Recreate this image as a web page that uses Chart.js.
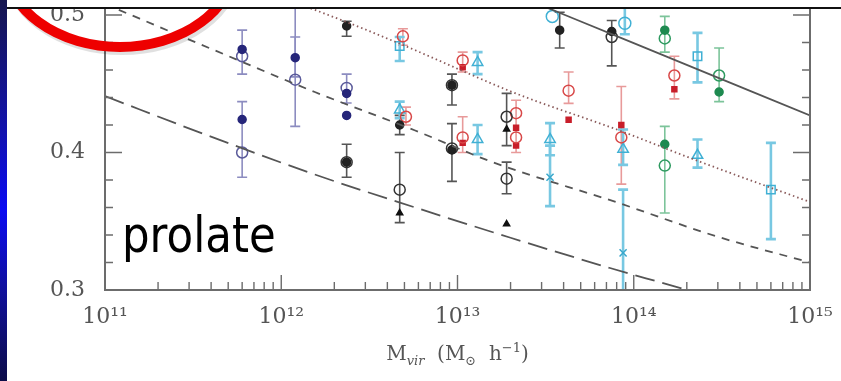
<!DOCTYPE html>
<html>
<head>
<meta charset="utf-8">
<script src="https://cdn.jsdelivr.net/npm/chart.js@4.4.1/dist/chart.umd.min.js"></script>
<style>
  html, body { margin: 0; padding: 0; background: #fff; }
  #wrap { position: relative; width: 841px; height: 381px; overflow: hidden; background: #fff; }
  #side { position: absolute; left: 0; top: 0; width: 7px; height: 381px;
          background: linear-gradient(#16164e, #1212b0 35%, #0a0af2 55%, #1010a0 75%, #0c0c48); z-index: 5; }
  #box { position: absolute; left: 0; top: -20px; width: 841px; height: 401px; filter: blur(0.45px); }
  #ring { position: absolute; left: 0; top: 0; z-index: 2; }
  #cover { position: absolute; left: 7px; top: 0; width: 834px; height: 7px; background: #fff;
           border-bottom: 2px solid #111; z-index: 3; }
  #prolate { position: absolute; left: 122px; top: 210px; font-family: 'DejaVu Sans'; font-size: 50px;
             line-height: 50px; color: #000; transform: scaleX(0.87); transform-origin: left top; z-index: 4; }
</style>
</head>
<body>
<div id="wrap">
  <div id="box"><canvas id="shape-chart" width="841" height="401"></canvas></div>
  <svg id="ring" width="841" height="381">
    <ellipse cx="121" cy="-36" rx="115" ry="84" fill="none" stroke="rgba(0,0,0,0.12)" stroke-width="10" transform="translate(1,2)"/>
    <ellipse cx="120" cy="-38" rx="115" ry="85" fill="none" stroke="#ee0000" stroke-width="10"/>
  </svg>
  <div id="cover"></div>
  <div id="side"></div>
  <div id="prolate">prolate</div>
</div>
<script>
// [halo mass (Msun/h), value, error low, error high]
const navyFilled = [[6.0e11, 0.475, 0.457, 0.489], [6.0e11, 0.424, null, null], [1.2e12, 0.469, 0.455, 0.484],
                    [2.35e12, 0.443, null, null], [2.35e12, 0.427, null, null]];
const navyOpen = [[6.0e11, 0.470, null, null], [6.0e11, 0.400, 0.382, 0.437], [1.2e12, 0.453, 0.419, 0.52],
                  [2.35e12, 0.447, 0.436, 0.457]];
const blackFilled = [[2.35e12, 0.492, 0.4845, 0.4955], [2.35e12, 0.393, 0.382, 0.406], [4.7e12, 0.420, 0.413, 0.427],
                     [9.3e12, 0.449, 0.4345, 0.457], [9.3e12, 0.402, 0.379, 0.421], [3.8e13, 0.489, 0.476, 0.502],
                     [7.5e13, 0.488, 0.463, 0.496]];
const blackOpen = [[2.35e12, 0.393, null, null], [4.7e12, 0.373, 0.349, 0.400], [9.3e12, 0.449, null, null],
                   [9.3e12, 0.403, null, null], [1.9e13, 0.426, 0.405, 0.443], [1.9e13, 0.381, 0.370, 0.393],
                   [7.5e13, 0.484, null, null]];
const blackTri = [[4.7e12, 0.356, null, null], [1.9e13, 0.417, null, null], [1.9e13, 0.348, null, null]];
const redOpen = [[4.9e12, 0.4845, 0.478, 0.490], [5.1e12, 0.426, 0.420, 0.433], [1.07e13, 0.467, 0.4586, 0.473],
                 [1.07e13, 0.411, 0.400, 0.426], [2.15e13, 0.4286, 0.400, 0.438], [2.15e13, 0.411, null, null],
                 [4.27e13, 0.445, 0.4357, 0.4586], [8.5e13, 0.411, 0.377, 0.448], [1.7e14, 0.456, 0.439, 0.470]];
const redFilled = [[1.07e13, 0.462, null, null], [1.07e13, 0.407, null, null], [2.15e13, 0.418, null, null],
                   [2.15e13, 0.405, null, null], [4.27e13, 0.4238, null, null], [8.5e13, 0.420, null, null],
                   [1.7e14, 0.446, null, null]];
const cyanSquare = [[4.7e12, 0.4774, 0.4666, 0.484], [2.3e14, 0.470, 0.451, 0.487], [6.0e14, 0.373, 0.337, 0.407]];
const cyanTri = [[4.7e12, 0.431, 0.425, 0.437], [1.3e13, 0.4655, 0.457, 0.473], [1.3e13, 0.4095, 0.3988, 0.420],
                 [3.35e13, 0.4095, 0.398, 0.4214], [8.7e13, 0.4024, 0.391, 0.4167], [2.3e14, 0.398, 0.389, 0.4095]];
const cyanCross = [[3.35e13, 0.382, 0.361, 0.405], [8.7e13, 0.327, 0.29, 0.373]];
const cyanOpen = [[3.45e13, 0.499, null, null], [8.9e13, 0.494, 0.486, 0.51]];
const greenFilled = [[1.5e14, 0.489, 0.473, 0.499], [1.5e14, 0.406, 0.356, 0.419], [3.05e14, 0.444, null, null]];
const greenOpen = [[1.5e14, 0.483, null, null], [1.5e14, 0.3905, null, null], [3.05e14, 0.456, 0.437, 0.476]];

// model curves
const solidMass = [3e13, 1e14, 1e15];
const solidVal = [0.507, 0.4795, 0.427];
const dottedMass = [1e12, 2.8e12, 5.37e12, 2.14e13, 8.3e13, 2.19e14, 1e15];
const dottedVal = [0.513, 0.491, 0.476, 0.443, 0.416, 0.395, 0.364];
const shortDashMass = [1e11, 3.9e11, 1.55e12, 5.75e12, 1.58e13, 7.9e13, 2.95e14, 1e15];
const shortDashVal = [0.508, 0.476, 0.444, 0.416, 0.393, 0.364, 0.339, 0.320];
const longDashMass = [1e11, 3.9e11, 1.55e12, 5.75e12, 2e13, 7.33e13, 2e14, 1e15];
const longDashVal = [0.441, 0.412, 0.384, 0.360, 0.338, 0.316, 0.300, 0.272];

const xTicks = [1e11, 1e12, 1e13, 1e14, 1e15];
const xTickLabels = ['10\u00b9\u00b9', '10\u00b9\u00b2', '10\u00b9\u00b3', '10\u00b9\u2074', '10\u00b9\u2075'];
const yTicks = [0.3, 0.4, 0.5];
const yTickLabels = ['0.3', '0.4', '0.5'];

const pts = (arr) => arr.map((r) => ({ x: r[0], y: r[1], lo: r[2], hi: r[3] }));
const curve = (m, v) => m.map((x, i) => ({ x: x, y: v[i] }));

function marks(arr, color, errColor, style, radius, filled, errWidth) {
	return {
		type: 'scatter',
		data: pts(arr),
		pointStyle: style,
		pointRadius: radius,
		borderWidth: 1.5,
		borderColor: color,
		backgroundColor: filled ? color : 'rgba(255,255,255,0)',
		errColor: errColor,
		errWidth: errWidth || 1.6,
	};
}

function line(m, v, dash, color) {
	return {
		type: 'line',
		data: curve(m, v),
		borderColor: color,
		borderWidth: 1.8,
		borderDash: dash,
		pointRadius: 0,
		cubicInterpolationMode: 'monotone',
		fill: false,
	};
}

const errorBars = {
	id: 'errorBars',
	beforeDatasetsDraw(chart) {
		const { ctx, chartArea: a, scales } = chart;
		ctx.save();
		ctx.beginPath();
		ctx.rect(a.left, a.top, a.right - a.left, a.bottom - a.top);
		ctx.clip();
		chart.data.datasets.forEach((ds) => {
			if (!ds.errColor) return;
			ctx.strokeStyle = ds.errColor;
			ctx.lineWidth = ds.errWidth;
			ds.data.forEach((p) => {
				if (p.lo == null) return;
				const px = scales.x.getPixelForValue(p.x);
				const y1 = scales.y.getPixelForValue(p.lo);
				const y2 = scales.y.getPixelForValue(p.hi);
				ctx.beginPath();
				ctx.moveTo(px, y1); ctx.lineTo(px, y2);
				ctx.moveTo(px - 5, y1); ctx.lineTo(px + 5, y1);
				ctx.moveTo(px - 5, y2); ctx.lineTo(px + 5, y2);
				ctx.stroke();
			});
		});
		ctx.restore();
	},
};

// frame with inward ticks and the axis title
const frame = {
	id: 'frame',
	afterDatasetsDraw(chart) {
		const { ctx, chartArea: a, scales } = chart;
		const sx = scales.x, sy = scales.y;
		ctx.save();
		ctx.strokeStyle = '#6c6c6c';
		ctx.lineWidth = 2;
		ctx.beginPath();
		ctx.moveTo(a.left, a.top); ctx.lineTo(a.left, a.bottom);
		ctx.lineTo(a.right, a.bottom); ctx.lineTo(a.right, a.top);
		ctx.stroke();

		ctx.lineWidth = 1.4;
		ctx.beginPath();
		for (let e = 11; e <= 15; e++) {
			for (let k = 1; k <= 9; k++) {
				const v = k * Math.pow(10, e);
				if (v > 1e15 * 1.0001) break;
				const px = sx.getPixelForValue(v);
				const len = k === 1 ? 15 : 8;
				ctx.moveTo(px, a.bottom); ctx.lineTo(px, a.bottom - len);
			}
		}
		for (let i = 0; i <= 11; i++) {
			const v = 0.3 + i * 0.02;
			const py = sy.getPixelForValue(v);
			const len = i % 5 === 0 ? 17 : 8;
			ctx.moveTo(a.left, py); ctx.lineTo(a.left + len, py);
			ctx.moveTo(a.right, py); ctx.lineTo(a.right - len, py);
		}
		ctx.stroke();

		// M_vir (M_sun h^-1)
		const parts = [['M', 20, 0], ['vir', 13, 5], ['  (M', 20, 0], ['\u2299', 13, 5], ['  h', 20, 0], ['\u22121', 13, -8], [')', 20, 0]];
		let w = 0;
		parts.forEach((p) => { ctx.font = p[1] + "px 'DejaVu Serif'"; w += ctx.measureText(p[0]).width; });
		let x0 = (a.left + a.right) / 2 - w / 2;
		const base = a.bottom + 70;
		ctx.fillStyle = '#555';
		ctx.textBaseline = 'alphabetic';
		parts.forEach((p) => {
			ctx.font = (p[0] === 'vir' ? 'italic ' : '') + p[1] + "px 'DejaVu Serif'";
			ctx.fillText(p[0], x0, base + p[2]);
			x0 += ctx.measureText(p[0]).width;
		});
		ctx.restore();
	},
};

const canvas = document.getElementById('shape-chart');

new Chart(canvas, {
	data: {
		datasets: [
			line(solidMass, solidVal, [], '#555'),
			line(dottedMass, dottedVal, [1.5, 3], '#8a5a5a'),
			line(shortDashMass, shortDashVal, [8, 7], '#555'),
			line(longDashMass, longDashVal, [20, 8], '#555'),
			marks(navyFilled, '#26267a', '#8c8cc0', 'circle', 4, true),
			marks(navyOpen, '#5a5a9a', '#8c8cc0', 'circle', 5.5, false),
			marks(blackFilled, '#222', '#555', 'circle', 4, true),
			marks(blackOpen, '#333', '#555', 'circle', 5.5, false),
			marks(blackTri, '#111', '#555', 'triangle', 3.5, true),
			marks(redOpen, '#d84848', '#e89a9a', 'circle', 5.5, false),
			marks(redFilled, '#c81e2a', '#e89a9a', 'rect', 3.5, true),
			marks(cyanSquare, '#40b0d4', '#78c8e2', 'rect', 6, false, 2.6),
			marks(cyanTri, '#40b0d4', '#78c8e2', 'triangle', 6, false, 2.6),
			marks(cyanCross, '#3aa8cc', '#78c8e2', 'crossRot', 5, false, 2.6),
			marks(cyanOpen, '#40b0d4', '#78c8e2', 'circle', 6, false, 2.6),
			marks(greenFilled, '#1e8a50', '#7cc49a', 'circle', 4, true),
			marks(greenOpen, '#2e9a60', '#7cc49a', 'circle', 5.5, false),
		],
	},
	options: {
		responsive: false,
		animation: false,
		layout: { padding: { top: 2, right: 31, left: 0, bottom: 0 } },
		scales: {
			x: {
				type: 'logarithmic',
				min: 1e11,
				max: 1e15,
				afterFit: (s) => { s.height = 91; s.paddingLeft = 0; s.paddingRight = 0; },
				afterBuildTicks: (s) => { s.ticks = xTicks.map((v) => ({ value: v })); },
				grid: { display: false, drawTicks: false },
				border: { display: false },
				ticks: {
					autoSkip: false,
					maxRotation: 0,
					padding: 14,
					color: '#555',
					font: { family: 'DejaVu Serif', size: 22 },
					callback: (v, i) => xTickLabels[i],
				},
			},
			y: {
				min: 0.3,
				max: 0.52,
				afterFit: (s) => { s.width = 105; s.paddingTop = 0; s.paddingBottom = 0; },
				afterBuildTicks: (s) => { s.ticks = yTicks.map((v) => ({ value: v })); },
				grid: { display: false, drawTicks: false },
				border: { display: false },
				ticks: {
					padding: 20,
					color: '#555',
					font: { family: 'DejaVu Serif', size: 22 },
					callback: (v, i) => yTickLabels[i],
				},
			},
		},
		plugins: {
			legend: { display: false },
			tooltip: { enabled: false },
		},
	},
	plugins: [errorBars, frame],
});
</script>
</body>
</html>
